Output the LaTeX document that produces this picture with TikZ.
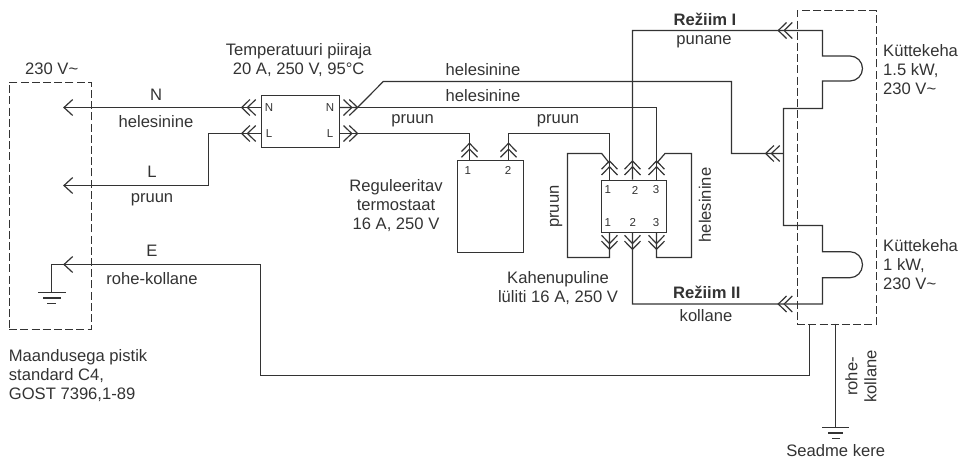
\documentclass[tikz,border=0pt]{standalone}
\usepackage{fontspec}
\setmainfont{Liberation Sans}
\definecolor{ink}{HTML}{333333}
\tikzset{
  wire/.style={draw=ink,line width=1.2pt,line join=miter},
  chevone/.pic={\draw[wire] (8.7,-8) -- (0,0) -- (8.7,8);},
  chevtwo/.pic={\draw[wire] (8.2,-8) -- (0,0) -- (8.2,8) (14,-8) -- (5.8,0) -- (14,8);},
  dashbox/.style={draw=ink,line width=1.2pt,dash pattern=on 8pt off 3.2pt,inner sep=0pt,anchor=north west},
  devbox/.style={draw=ink,fill=white,line width=1.2pt,inner sep=0pt,anchor=north west},
  lbl/.style={text=ink,font=\fontsize{16.6}{19}\selectfont,inner sep=0pt,align=center},
  lbll/.style={lbl,align=left,anchor=west},
  small/.style={text=ink,font=\fontsize{11.5}{13}\selectfont,inner sep=0pt},
  L/.style={rotate=0},R/.style={rotate=180},U/.style={rotate=-90},D/.style={rotate=90},
}
\begin{document}
\begin{tikzpicture}[x=1pt,y=-1pt]
\useasboundingbox (0,0) rectangle (961,459);
% boxes
\node[dashbox,minimum width=82pt,minimum height=247.4pt] (plug) at (8.5,81.5) {};
\node[dashbox,minimum width=79pt,minimum height=313.7pt] (heat) at (796.5,10) {};
% coordinates
\coordinate (plugN) at (64,107.5);
\coordinate (plugL) at (64,185.5);
\coordinate (plugE) at (64,264.5);
\coordinate (gnd1) at (51.5,264.5);
\coordinate (gnd1b) at (51.5,292.5);
\coordinate (limNl) at (260.5,107.5);
\coordinate (limLl) at (260.5,133.5);
\coordinate (limNr) at (338.5,107.5);
\coordinate (limLr) at (338.5,133.5);
\coordinate (tNl) at (241.7,107.5);
\coordinate (tLl) at (241.7,133.5);
\coordinate (tNr) at (357.5,107.5);
\coordinate (tLr) at (357.5,133.5);
\coordinate (bendL) at (208.5,133.5);
\coordinate (bendLb) at (208.5,185.5);
\coordinate (eT) at (260.5,264.5);
\coordinate (eB) at (260.5,375.5);
\coordinate (eC) at (809.5,375.5);
\coordinate (eH) at (809.5,323.7);
\coordinate (diag) at (383.3,81.5);
\coordinate (b1) at (731.5,81.5);
\coordinate (b2) at (731.5,153.5);
\coordinate (tBus) at (765.7,153.5);
\coordinate (bus) at (783.5,153.5);
\coordinate (busT) at (783.5,108.5);
\coordinate (busB) at (783.5,225.5);
\coordinate (h1a) at (822.5,30.5);
\coordinate (h1b) at (822.5,56);
\coordinate (h1c) at (850,56);
\coordinate (h1e) at (822.5,81);
\coordinate (h1f) at (822.5,108.5);
\coordinate (h2a) at (822.5,225.5);
\coordinate (h2b) at (822.5,251.7);
\coordinate (h2c) at (850,251.7);
\coordinate (h2e) at (822.5,277.7);
\coordinate (h2f) at (822.5,304);
\coordinate (tR1) at (778.3,30.5);
\coordinate (tR2) at (778.3,304);
\coordinate (r1c) at (632.5,30.5);
\coordinate (r2c) at (632.5,304);
\coordinate (th1) at (469.5,159.5);
\coordinate (th2) at (508.5,159.5);
\coordinate (th1t) at (469.5,143.3);
\coordinate (th2t) at (508.5,143.3);
\coordinate (th1b) at (469.5,133.5);
\coordinate (th2b) at (508.5,133.5);
\coordinate (sw1b) at (609.5,133.5);
\coordinate (sT1) at (609.5,179.5);
\coordinate (sT2) at (632.5,179.5);
\coordinate (sT3) at (656.5,179.5);
\coordinate (sB1) at (609.5,231.5);
\coordinate (sB2) at (632.5,231.5);
\coordinate (sB3) at (656.5,231.5);
\coordinate (tT1) at (609.5,161);
\coordinate (tT2) at (632.5,161);
\coordinate (tT3) at (656.5,161);
\coordinate (tB1) at (609.5,249.3);
\coordinate (tB2) at (632.5,249.3);
\coordinate (tB3) at (656.5,249.3);
\coordinate (sw3b) at (656.5,107.5);
\coordinate (pA) at (609.5,163.3);
\coordinate (pB) at (601.7,153.5);
\coordinate (pC) at (567.5,153.5);
\coordinate (pD) at (567.5,257.5);
\coordinate (pE) at (609.5,257.5);
\coordinate (qA) at (656.5,163.3);
\coordinate (qB) at (665,153.5);
\coordinate (qC) at (691.5,153.5);
\coordinate (qD) at (691.5,257.5);
\coordinate (qE) at (656.5,257.5);
\coordinate (gA) at (835.5,323.7);
\coordinate (gB) at (835.5,427.5);
% wires
\draw[wire] (limNl) -- (plugN);
\draw[wire] (limLl) -- (bendL) -- (bendLb) -- (plugL);
\draw[wire] (gnd1b) -- (gnd1) -- (eT) -- (eB) -- (eC) -- (eH);
\draw[wire] (38.3,292.5) -- (65.7,292.5) (43.3,298) -- (60.7,298) (47.3,303.5) -- (56,303.5);
\draw[wire] (limNr) -- (tNr) -- (diag) -- (b1) -- (b2) -- (bus);
\draw[wire] (tNr) -- (sw3b) -- (sT3);
\draw[wire] (limLr) -- (th1b) -- (th1);
\draw[wire] (th2) -- (th2b) -- (sw1b) -- (sT1);
\draw[wire] (sT2) -- (r1c) -- (h1a) -- (h1b) -- (h1c) arc[start angle=-90,end angle=90,y radius=-12.5pt,x radius=12.5pt] -- (h1e) -- (h1f) -- (busT) -- (busB) -- (h2a) -- (h2b) -- (h2c) arc[start angle=-90,end angle=90,y radius=-13pt,x radius=12.5pt] -- (h2e) -- (h2f) -- (r2c) -- (sB2);
\draw[wire] (pA) -- (pB) -- (pC) -- (pD) -- (pE) -- (sB1);
\draw[wire] (qA) -- (qB) -- (qC) -- (qD) -- (qE) -- (sB3);
\draw[wire] (gA) -- (gB);
\draw[wire] (822.3,427.5) -- (849.3,427.5) (828,433) -- (843,433) (832,438.5) -- (840,438.5);
% arrowheads
\pic at (plugN) {chevone};
\pic at (plugL) {chevone};
\pic at (plugE) {chevone};
\pic at (tNl) {chevtwo};
\pic at (tLl) {chevtwo};
\pic at (tBus) {chevtwo};
\pic at (tR1) {chevtwo};
\pic at (tR2) {chevtwo};
\pic[R] at (tNr) {chevtwo};
\pic[R] at (tLr) {chevtwo};
\pic[U] at (th1t) {chevtwo};
\pic[U] at (th2t) {chevtwo};
\pic[U] at (tT1) {chevtwo};
\pic[U] at (tT2) {chevtwo};
\pic[U] at (tT3) {chevtwo};
\pic[D] at (tB1) {chevtwo};
\pic[D] at (tB2) {chevtwo};
\pic[D] at (tB3) {chevtwo};
% device boxes
\node[devbox,minimum width=78pt,minimum height=52pt] (lim) at (260.5,94.5) {};
\node[devbox,minimum width=66pt,minimum height=92pt] (therm) at (456.5,159.5) {};
\node[devbox,minimum width=65pt,minimum height=52pt] (sw) at (600.5,179.5) {};
% labels
\node[lbl] (t230) at (51.7,69) {230 V\char`\~};
\node[lbl] (tN) at (156,95) {N};
\node[lbl] (thN) at (156,122) {helesinine};
\node[lbl] (tL) at (152,172) {L};
\node[lbl] (tpL) at (152,200) {pruun};
\node[lbl] (tE) at (152,250.7) {E};
\node[lbl] (tRK) at (152,279) {rohe-kollane};
\node[lbll,anchor=north west] (tMaa) at (8.7,349) {Maandusega pistik\\standard C4,\\GOST 7396,1-89};
\node[lbl] (tTemp) at (298.7,60) {Temperatuuri piiraja\\20 A, 250 V, 95°C};
\node[small] (n1) at (269,107.7) {N};
\node[small] (n2) at (330,107.7) {N};
\node[small] (n3) at (269,134) {L};
\node[small] (n4) at (330,134) {L};
\node[lbl] (th1l) at (483,69.3) {helesinine};
\node[lbl] (th2l) at (483,96) {helesinine};
\node[lbl] (tp1) at (412.7,121) {pruun};
\node[lbl] (tp2) at (558,121) {pruun};
\node[lbl] (tReg) at (396,205.5) {Reguleeritav\\termostaat\\16 A, 250 V};
\node[small] (n5) at (467.7,170.7) {1};
\node[small] (n6) at (508,170.7) {2};
\node[small] (n7) at (607.7,190) {1};
\node[small] (n8) at (635,190) {2};
\node[small] (n9) at (656,190) {3};
\node[small] (n10) at (607.7,222.3) {1};
\node[small] (n11) at (632.7,222.3) {2};
\node[small] (n12) at (656,222.3) {3};
\node[lbl,rotate=90] (tpr) at (556,206.7) {pruun};
\node[lbl,rotate=90] (the) at (705,205) {helesinine};
\node[lbl] (tKah) at (558,287.7) {Kahenupuline\\lüliti 16 A, 250 V};
\node[lbl] (tR1l) at (705,19) {\textbf{Režiim I}};
\node[lbl] (tpun) at (704,42) {punane};
\node[lbll,anchor=north west] (tK1) at (883,44.5) {Küttekeha\\1.5 kW,\\230 V\char`\~};
\node[lbll,anchor=north west] (tK2) at (883,239) {Küttekeha\\1 kW,\\230 V\char`\~};
\node[lbl] (tR2l) at (706.7,292.3) {\textbf{Režiim II}};
\node[lbl] (tkol) at (706,316) {kollane};
\node[lbl,rotate=90] (tro) at (861,376.5) {rohe-\\kollane};
\node[lbl] (tSe) at (835.7,451) {Seadme kere};
\end{tikzpicture}
\end{document}
